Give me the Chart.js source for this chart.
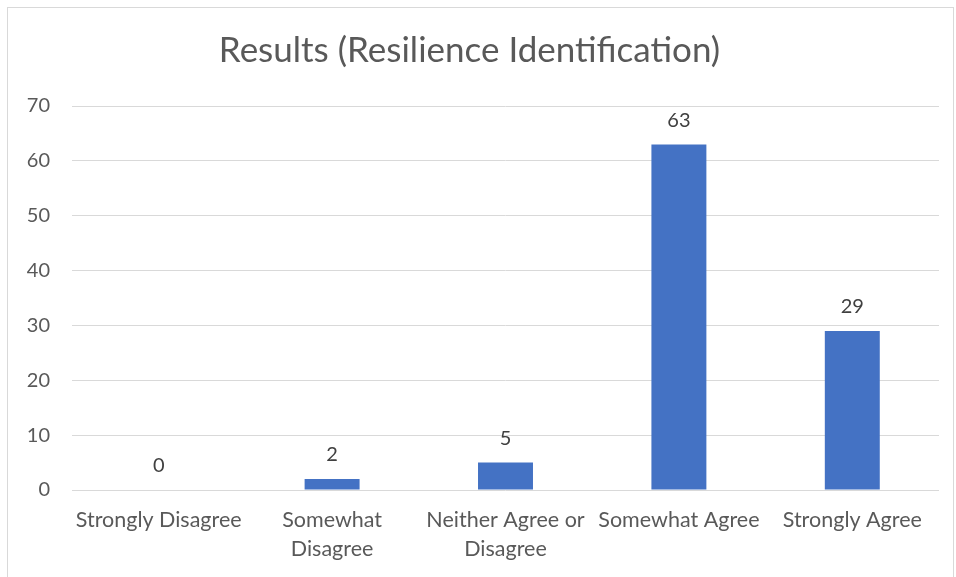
<!DOCTYPE html>
<html>
<head>
<meta charset="utf-8">
<script src="https://cdn.jsdelivr.net/npm/chart.js@4.4.1/dist/chart.umd.min.js"></script>
<style>
  html, body { margin: 0; padding: 0; background: #fff; }
  #frame {
    position: absolute; left: 7px; top: 7px; width: 947px; height: 600px;
    border: 1px solid #d9d9d9; box-sizing: border-box;
  }
  #resultsChart { position: absolute; left: 0; top: 0; }
</style>
</head>
<body>
<div id="frame"></div>
<canvas id="resultsChart" width="956" height="577"></canvas>
<script>
// survey answers and how many people picked each
const categories = [
    'Strongly Disagree',
    ['Somewhat', 'Disagree'],
    ['Neither Agree or', 'Disagree'],
    'Somewhat Agree',
    'Strongly Agree'
];
const counts = [0, 2, 5, 63, 29];
const yTicks = [0, 10, 20, 30, 40, 50, 60, 70];

const FONT = 'Lato, "Open Sans", sans-serif';
const GREY = '#595959';

// writes each bar's value just above it
const valueLabels = {
    id: 'valueLabels',
    afterDatasetsDraw(chart) {
        const ctx = chart.ctx;
        const meta = chart.getDatasetMeta(0);
        ctx.save();
        ctx.font = '20px ' + FONT;
        ctx.fillStyle = '#404040';
        ctx.textAlign = 'center';
        ctx.textBaseline = 'middle';
        meta.data.forEach((bar, i) => {
            ctx.fillText(String(counts[i]), bar.x, bar.y - 24);
        });
        ctx.restore();
    }
};

new Chart(document.getElementById('resultsChart'), {
    type: 'bar',
    data: {
        labels: categories,
        datasets: [{
            data: counts,
            backgroundColor: '#4472C4',
            borderWidth: 0,
            categoryPercentage: 1,
            barPercentage: 0.317
        }]
    },
    options: {
        responsive: false,
        animation: false,
        devicePixelRatio: 1,
        layout: { padding: { left: 0, right: 17, top: 0, bottom: 12 } },
        plugins: {
            legend: { display: false },
            tooltip: { enabled: false },
            title: {
                display: true,
                text: 'Results (Resilience Identification)',
                color: GREY,
                font: { family: FONT, size: 35, weight: 'normal', lineHeight: 1.2 },
                padding: { top: 30, bottom: 34 }
            }
        },
        scales: {
            y: {
                min: 0,
                max: 70,
                afterBuildTicks(scale) {
                    scale.ticks = yTicks.map(v => ({ value: v }));
                },
                afterFit(scale) { scale.width = 72; },
                grid: { color: '#d9d9d9', lineWidth: 1, drawTicks: false },
                border: { display: false },
                ticks: {
                    color: GREY,
                    padding: 22,
                    font: { family: FONT, size: 20 }
                }
            },
            x: {
                afterFit(scale) { scale.height = 75; },
                grid: { display: false, drawTicks: false },
                border: { display: false },
                ticks: {
                    color: GREY,
                    padding: 16,
                    maxRotation: 0,
                    autoSkip: false,
                    font: { family: FONT, size: 21.5, lineHeight: 1.35 }
                }
            }
        }
    },
    plugins: [valueLabels]
});
</script>
</body>
</html>
